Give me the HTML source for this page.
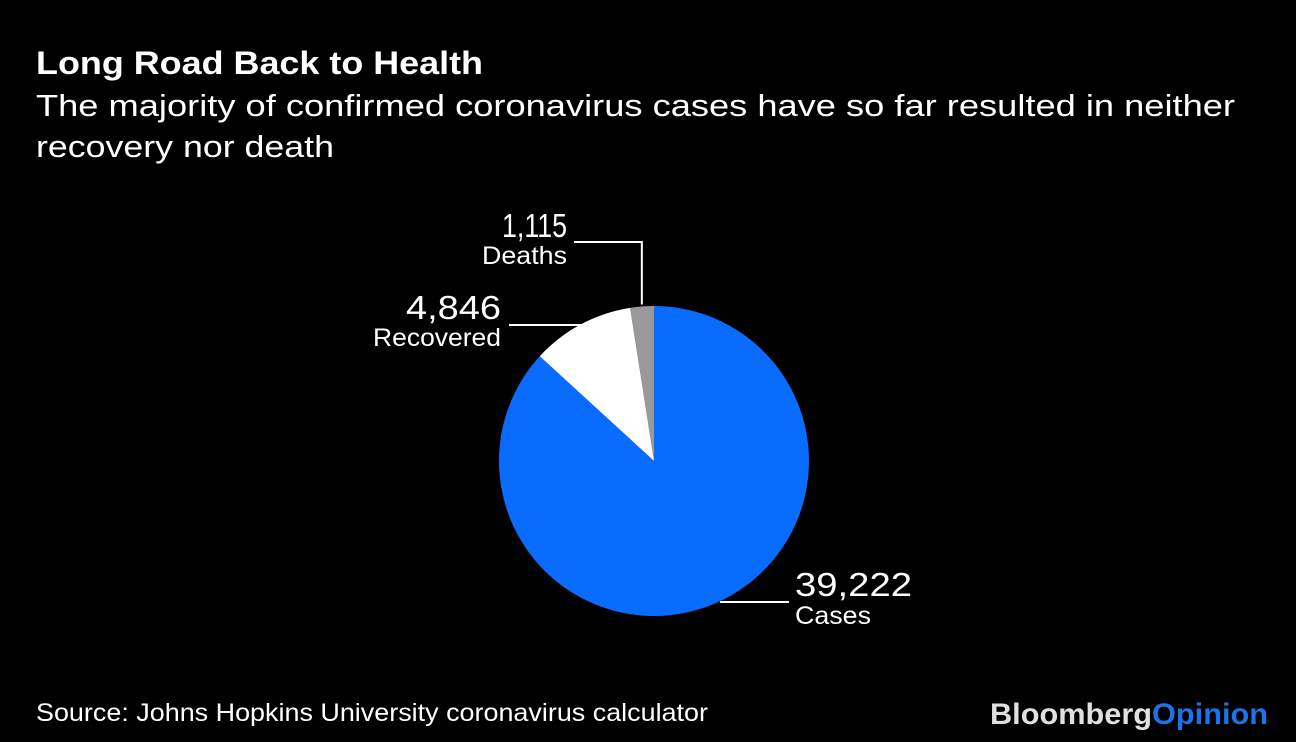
<!DOCTYPE html>
<html><head><meta charset="utf-8"><style>
body{margin:0;background:#000;width:1296px;height:742px;overflow:hidden;font-family:"Liberation Sans",sans-serif;color:#fff}
</style></head><body>
<svg width="1296" height="742" style="position:absolute;left:0;top:0">
<rect width="1296" height="742" fill="#000"/>
<text x="36" y="74" font-size="32" font-weight="bold" fill="#fff" textLength="447" lengthAdjust="spacingAndGlyphs">Long Road Back to Health</text>
<text x="36" y="116" font-size="31" fill="#fff" textLength="1199" lengthAdjust="spacingAndGlyphs">The majority of confirmed coronavirus cases have so far resulted in neither</text>
<text x="36" y="157" font-size="31" fill="#fff" textLength="298" lengthAdjust="spacingAndGlyphs">recovery nor death</text>
<g id="pie"></g>
<g id="labels"></g>
<text x="36" y="721" font-size="25" fill="#fff" textLength="672" lengthAdjust="spacingAndGlyphs">Source: Johns Hopkins University coronavirus calculator</text>
<text x="990" y="724" font-size="30" font-weight="bold" textLength="278" lengthAdjust="spacingAndGlyphs"><tspan fill="#e0e0e0">Bloomberg</tspan><tspan fill="#1a73e8">Opinion</tspan></text>
</svg>
<script>
const categories=["Deaths","Recovered","Cases"];
const values=[1115,4846,39222];
const valueLabels=["1,115","4,846","39,222"];
const colors=["#999999","#ffffff","#0a6cff"];
const ns="http://www.w3.org/2000/svg";
const cx=654,cy=461,r=155;
const total=values.reduce((a,b)=>a+b,0);
const pie=document.getElementById('pie');
function pt(a,rr){return [cx+rr*Math.sin(a),cy-rr*Math.cos(a)];}
let start=0;const mids=[];
for(let i=0;i<values.length;i++){
  const sweep=values[i]/total*2*Math.PI;
  const a0=-start,a1=-(start+sweep);
  const p0=pt(a0,r),p1=pt(a1,r);
  const large=sweep>Math.PI?1:0;
  const p=document.createElementNS(ns,'path');
  p.setAttribute('d',`M${cx},${cy}L${p0[0]},${p0[1]}A${r},${r} 0 ${large} 0 ${p1[0]},${p1[1]}Z`);
  p.setAttribute('fill',colors[i]);
  
  
  pie.appendChild(p);
  mids.push(-(start+sweep/2));
  start+=sweep;
}
const lg=document.getElementById('labels');
function line(d,name){const l=document.createElementNS(ns,'path');l.setAttribute('d',d);l.setAttribute('stroke','#fff');l.setAttribute('stroke-width','2');l.setAttribute('fill','none');


lg.appendChild(l);}
function txt(x,y,s,size,anchor,name,len){const t=document.createElementNS(ns,'text');t.setAttribute('x',x);t.setAttribute('y',y);t.setAttribute('font-size',size);t.setAttribute('fill','#fff');t.setAttribute('text-anchor',anchor);
t.setAttribute('textLength',len);t.setAttribute('lengthAdjust','spacingAndGlyphs');t.textContent=s;


lg.appendChild(t);}
let m=pt(mids[0],r+2);
line(`M${m[0]},${m[1]}V242H574`,'deaths-leader');
txt(567,237,valueLabels[0],33,'end','deaths-value',65);
txt(567,264,categories[0],25,'end','deaths-label',85);
m=pt(mids[1],r+2);
line(`M${m[0]+12},325H509`,'recovered-leader');
txt(501,319,valueLabels[1],33,'end','recovered-value',95);
txt(501,346,categories[1],25,'end','recovered-label',128);
line(`M720,602H789`,'cases-leader');
txt(795,596,valueLabels[2],33,'start','cases-value',117);
txt(795,624,categories[2],25,'start','cases-label',76);
</script>
</body></html>
